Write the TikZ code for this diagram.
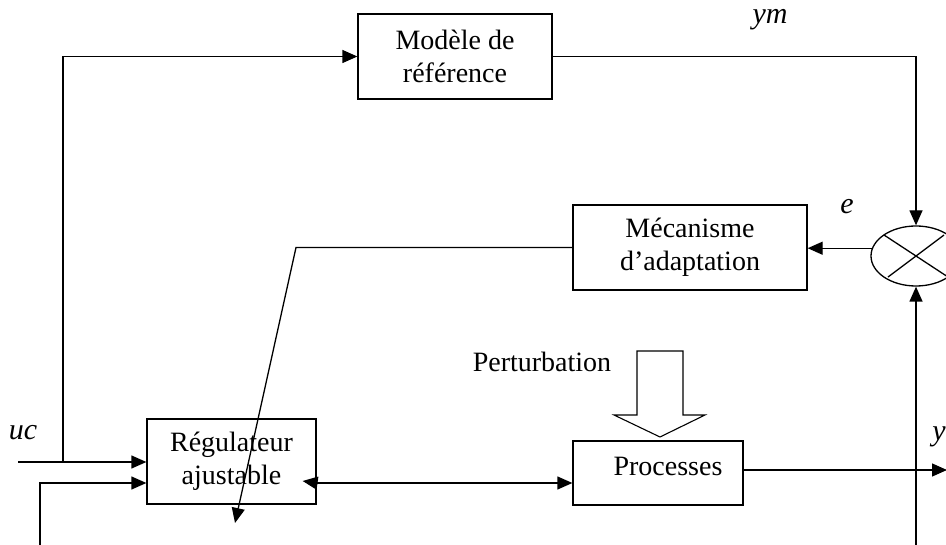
\documentclass[tikz,border=0pt]{standalone}
\usepackage{fontspec}
\setmainfont{Liberation Serif}
\usetikzlibrary{arrows.meta,shapes.geometric}
\begin{document}
\begin{tikzpicture}[x=1pt,y=-1pt,
  line width=1.3pt,
  every node/.style={font=\fontsize{28}{33}\selectfont},
  block/.style={draw,rectangle,align=center,inner sep=0pt},
  arr/.style={-{Triangle[length=15pt,width=13pt]}},
  sig/.style={font=\fontsize{30}{33}\selectfont\itshape}]
\useasboundingbox (0,0) rectangle (946,545);

% blocks
\node[block,minimum width=194pt,minimum height=85pt] (mod) at (455,56.5) {Modèle de\\référence};
\node[block,minimum width=234pt,minimum height=85pt] (mec) at (690,247.5) {Mécanisme\\d’adaptation};
\node[block,minimum width=169pt,minimum height=85pt] (reg) at (231.5,461.5) {Régulateur\\ajustable};
\node[block,minimum width=170pt,minimum height=64pt] (proc) at (658,473) {};
\node (proctxt) at (668,466) {Processes};
\node[draw,ellipse,minimum width=90pt,minimum height=60pt,inner sep=0pt] (sum) at (916,256) {};
\draw (884,235) -- (948,277);
\draw (888,277) -- (944,235);

% signal labels
\node[sig] (ym) at (770,20) {ym};
\node[sig] (e) at (847,207) {e};
\node[sig] (uc) at (23,433) {uc};
\node[sig] (y) at (939,437) {y};
\node (pert) at (542,362) {Perturbation};

% disturbance arrow
\draw[line width=1.1pt] (637,351) -- (683,351) -- (683,415) -- (705,415) -- (660,437)
  -- (614,415) -- (637,415) -- cycle;

% free ends
\coordinate (ucstart) at (18,462);
\coordinate (ucbranch) at (63,462);
\coordinate (in2) at (40,545);
\coordinate (ymcorner) at (916,56.5);
\coordinate (bend) at (296,247.5);
\coordinate (adj) at (235,523);
\coordinate (yout) at (947,470);
\coordinate (ybot) at (916,545);

% connectors
\draw[arr] (ucstart) -- (ucstart -| reg.west);
\draw[arr] (ucbranch) |- (mod.west);
\draw[arr] (in2) |- ([yshift=-21.5pt]reg.west);
\draw[arr] (mod.east) -- (ymcorner) -- (sum.north);
\draw[arr] (sum.170) -- (sum.170 -| mec.east);
\draw[arr] (mec.west) -- (bend) -- (adj);
\draw[arr] ([yshift=-21.5pt]reg.east) -- ([yshift=-10pt]proc.west);
\draw[arr] ([yshift=-21.5pt]reg.east) -- ([xshift=-14pt,yshift=-19.5pt]reg.east);
\draw[arr] ([yshift=3pt]proc.east) -- (yout);
\draw[arr] (ybot) -- (sum.south);
\end{tikzpicture}
\end{document}
